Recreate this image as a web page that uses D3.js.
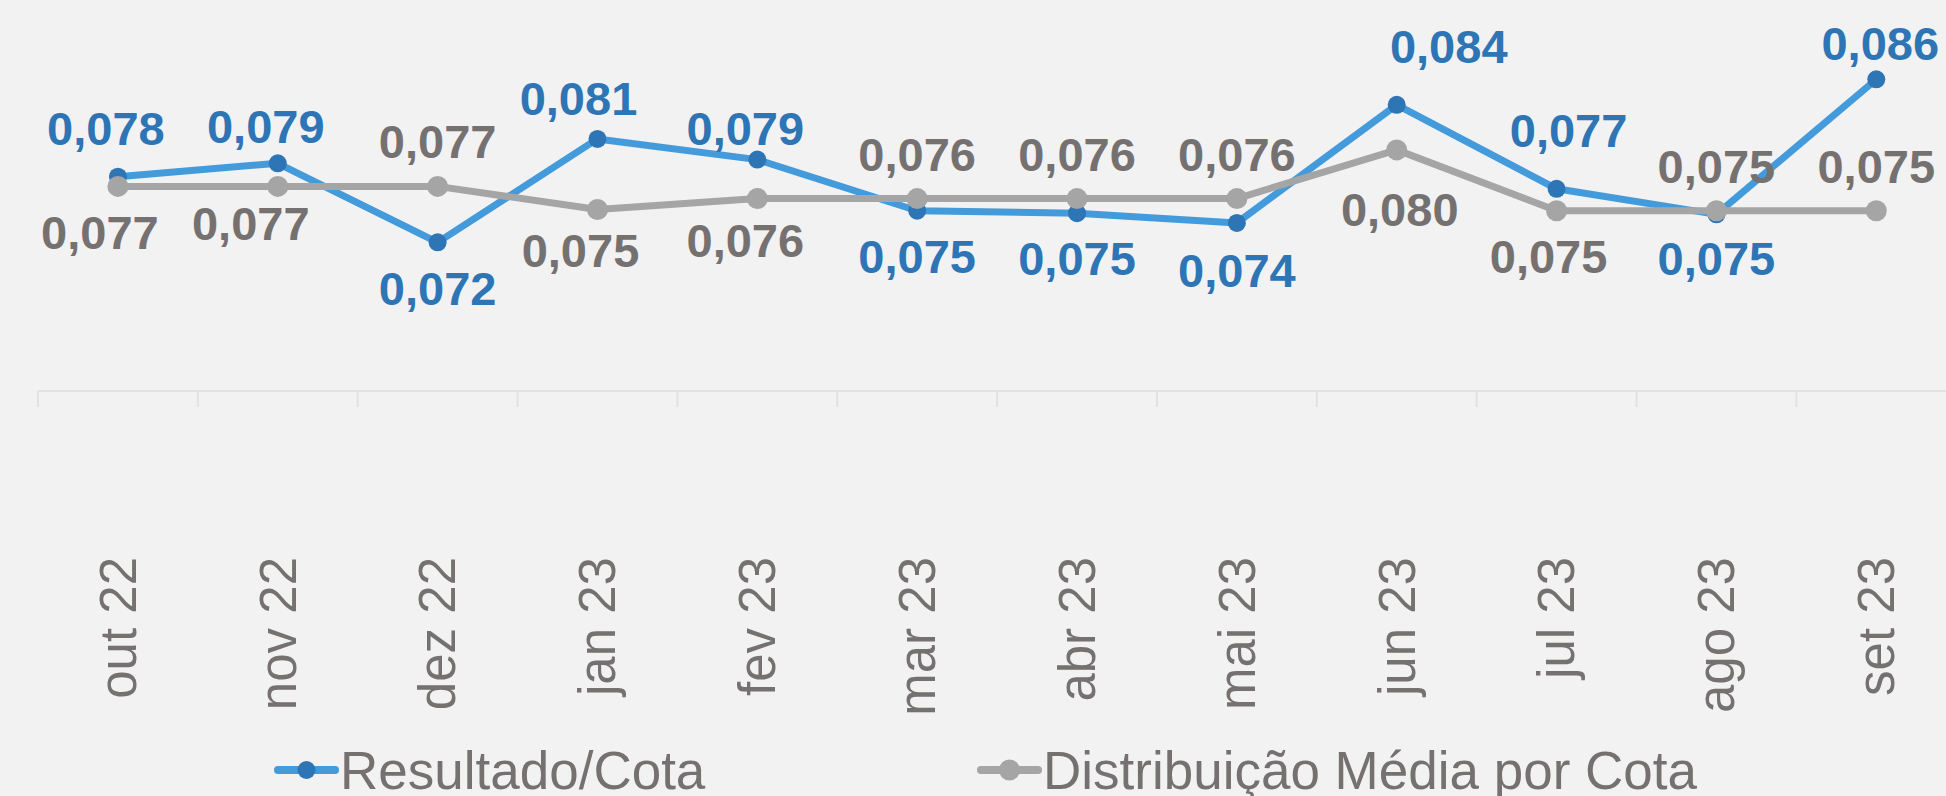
<!DOCTYPE html>
<meta charset="utf-8">

<head>
  <style>
    body {
      margin: 0;
      background: #f2f2f2;
    }

    svg {
      display: block;
      font-family: "Liberation Sans", Arial, sans-serif;
    }

    .axis path {
      display: none;
    }

    .axis text {
      font-size: 51px;
      fill: #767171;
    }

    .lbl {
      font-size: 47px;
      font-weight: bold;
    }
  </style>
</head>

<body>
  <script src="https://d3js.org/d3.v7.min.js"></script>

  <script>
    // data
    var months = ["out 22", "nov 22", "dez 22", "jan 23", "fev 23", "mar 23",
      "abr 23", "mai 23", "jun 23", "jul 23", "ago 23", "set 23"];
    var resultado = [0.0777, 0.0788, 0.0723, 0.0808, 0.0791, 0.0749,
      0.0747, 0.0739, 0.0836, 0.0767, 0.0746, 0.0857];
    var distribuicao = [0.0769, 0.0769, 0.0769, 0.0750, 0.0759, 0.0759,
      0.0759, 0.0759, 0.0799, 0.0749, 0.0749, 0.0749];
    var seriesNames = ["Resultado/Cota", "Distribuição Média por Cota"];

    var width = 1946,
      height = 796,
      axisY = 391;

    var svg = d3.select("body").append("svg")
      .attr("width", width)
      .attr("height", height);

    svg.append("rect")
      .attr("width", width)
      .attr("height", height)
      .attr("fill", "#f2f2f2");

    // plot area runs a bit past the right edge (cropped in the original)
    var x = d3.scaleBand()
      .domain(months)
      .range([38, 38 + 12 * 159.85])
      .padding(0);

    var y = d3.scaleLinear()
      .domain([0.06, 0.09])
      .range([392, 27]);

    var cx = function (d) { return x(d) + x.bandwidth() / 2; };
    var fmt = function (v) { return d3.format(".3f")(v).replace(".", ","); };

    var series = [
      { name: seriesNames[0], values: resultado, line: "#449bdb", dot: "#2e75b6", text: "#2e75b6", r: 9 },
      { name: seriesNames[1], values: distribuicao, line: "#a5a5a5", dot: "#a5a5a5", text: "#767171", r: 10.5 }
    ];

    // x axis: baseline, tick marks between categories, rotated labels
    svg.append("line")
      .attr("x1", x.range()[0])
      .attr("x2", width)
      .attr("y1", axisY)
      .attr("y2", axisY)
      .attr("stroke", "#e2e2e2")
      .attr("stroke-width", 2);

    svg.append("g")
      .selectAll("line")
      .data(months)
      .enter().append("line")
      .attr("x1", function (d) { return x(d); })
      .attr("x2", function (d) { return x(d); })
      .attr("y1", axisY)
      .attr("y2", axisY + 16)
      .attr("stroke", "#e2e2e2")
      .attr("stroke-width", 2);

    var xAxis = svg.append("g")
      .attr("class", "axis")
      .attr("transform", "translate(0," + axisY + ")")
      .call(d3.axisBottom(x).tickSize(0))
      .selectAll("text")
      .attr("transform", "rotate(-90)")
      .attr("x", -166)
      .attr("y", 0)
      .attr("dy", "0.35em")
      .attr("text-anchor", "end");

    // lines and markers
    var line = d3.line()
      .x(function (d, i) { return cx(months[i]); })
      .y(function (d) { return y(d); });

    series.forEach(function (s) {
      svg.append("path")
        .datum(s.values)
        .attr("fill", "none")
        .attr("stroke", s.line)
        .attr("stroke-width", 7)
        .attr("stroke-linejoin", "round")
        .attr("d", line);

      svg.append("g")
        .selectAll("circle")
        .data(s.values)
        .enter().append("circle")
        .attr("cx", function (d, i) { return cx(months[i]); })
        .attr("cy", function (d) { return y(d); })
        .attr("r", s.r)
        .attr("fill", s.dot);
    });

    // data labels: higher series above, lower below (unless far away),
    // plus the manual nudges the original labels had
    var nudge = [
      { 0: [-12, -4], 1: [-12, 8], 2: [0, 1], 3: [-19, 4], 4: [-12, 13], 7: [0, 2], 8: [52, -14], 9: [12, -14], 10: [0, -1], 11: [4, 9] },
      { 0: [-18, 1], 1: [-27, -8], 3: [-17, -5], 4: [-12, -4], 8: [3, 14], 9: [-8, 0] }
    ];

    series.forEach(function (s, si) {
      var other = series[1 - si].values;
      svg.append("g")
        .selectAll("text")
        .data(s.values)
        .enter().append("text")
        .attr("class", "lbl")
        .attr("fill", s.text)
        .attr("text-anchor", "middle")
        .attr("x", function (d, i) {
          var n = nudge[si][i] || [0, 0];
          return cx(months[i]) + n[0];
        })
        .attr("y", function (d, i) {
          var n = nudge[si][i] || [0, 0];
          var above = d >= other[i] || (other[i] - d) > 0.008;
          return y(d) + (above ? -28 : 62) + n[1];
        })
        .text(function (d) { return fmt(d); });
    });

    // legend
    var legendItems = [
      { x: 278, s: series[0] },
      { x: 981, s: series[1] }
    ];

    var legend = svg.append("g")
      .selectAll("g")
      .data(legendItems)
      .enter().append("g")
      .attr("transform", function (d) { return "translate(" + d.x + ",770)"; });

    legend.append("line")
      .attr("x1", 0)
      .attr("x2", 57)
      .attr("stroke", function (d) { return d.s.line; })
      .attr("stroke-width", 8)
      .attr("stroke-linecap", "round");

    legend.append("circle")
      .attr("cx", 28.5)
      .attr("r", function (d) { return d.s.r; })
      .attr("fill", function (d) { return d.s.dot; });

    legend.append("text")
      .attr("x", 62)
      .attr("y", 19)
      .attr("fill", "#767171")
      .style("font-size", "53px")
      .text(function (d) { return d.s.name; });
  </script>
</body>
